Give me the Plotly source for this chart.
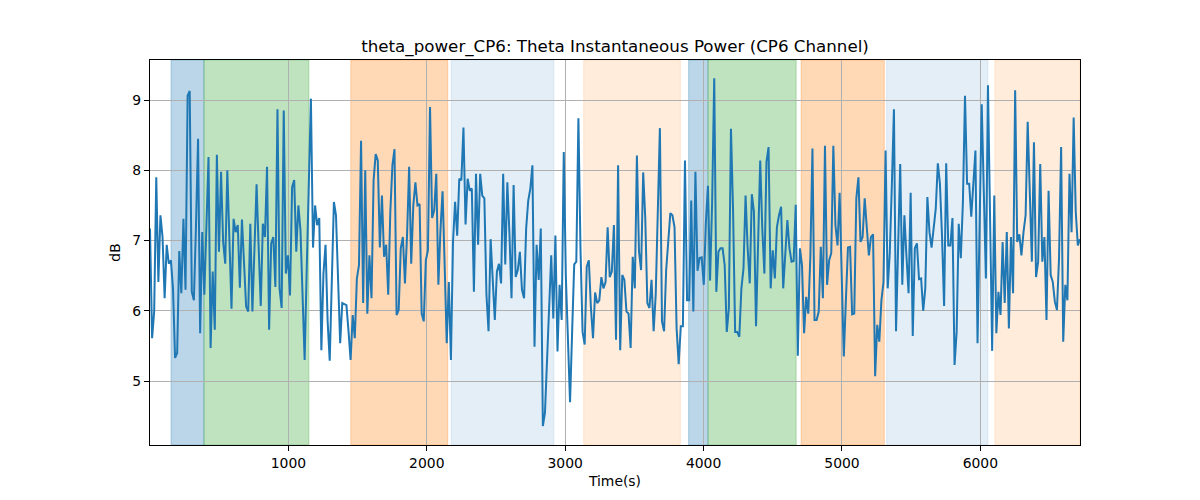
import plotly.graph_objects as go

# ---- data ----
theta_db = [
    # segment 1
    7.17, 5.61, 5.99, 7.90, 6.41, 7.36, 7.05, 6.18, 6.94, 6.67,
    6.72, 6.32, 5.33, 5.40, 6.85, 6.25, 7.31, 6.30, 9.06, 9.13,
    6.27, 6.15, 7.20, 8.45, 5.68, 7.12, 6.23, 7.30, 8.19, 5.47,
    6.56, 5.73, 8.22, 6.84, 7.98, 6.98, 6.67, 8.00, 7.00, 6.03,
    7.31, 7.12, 7.22, 6.33, 7.30, 6.70, 6.06, 5.99, 7.24, 5.99,
    6.90, 7.80, 6.90, 6.07, 7.24,
    # segment 2
    7.05, 8.05, 5.73, 6.96, 7.05, 6.34, 8.87, 6.32, 6.04, 8.85,
    6.53, 6.79, 6.22, 7.76, 7.86, 6.84, 7.50, 7.15, 6.04, 5.30,
    6.60, 7.90, 9.02, 6.90, 7.50, 7.22, 7.32, 5.44, 6.53, 6.94,
    5.85, 5.29, 6.51, 7.55, 7.36, 6.50, 5.54, 6.11, 6.09, 6.08,
    5.71, 5.30, 5.94, 5.61, 6.46, 6.65, 8.42, 6.11, 8.00, 5.96,
    6.79, 6.18, 7.86, 8.23, 8.14, 6.90, 7.64,
    # segment 3
    6.77, 6.94, 6.23, 7.41, 8.07, 8.30, 5.94, 6.01, 6.89, 7.05,
    6.39, 7.07, 8.05, 6.67, 7.50, 7.83, 7.50, 7.52, 5.96, 5.85,
    6.72, 6.86, 8.90, 7.32, 7.43, 7.95, 6.37, 7.15, 7.70, 6.65,
    5.54, 6.41, 5.30, 6.98, 7.55, 7.07, 7.88, 7.86, 8.61, 7.23,
    7.88, 7.71, 7.74, 6.27, 7.95, 6.94, 7.95, 7.64, 7.60, 6.23,
    5.71, 7.02, 6.51, 5.87, 6.56, 6.67,
    # segment 4
    6.39, 7.95, 6.66, 7.83, 7.10, 6.18, 7.79, 6.48, 6.58, 6.84,
    6.30, 6.18, 7.17, 7.57, 7.74, 8.07, 5.49, 6.94, 6.44, 7.17,
    4.36, 4.55, 5.30, 6.00, 6.79, 5.89, 7.07, 5.42, 6.37, 5.87,
    8.26, 6.48, 5.60, 4.70, 5.70, 6.66, 6.70, 8.74, 6.89, 5.70,
    5.52, 6.63, 6.72, 6.04, 5.61, 6.26, 6.11, 6.15, 6.48, 6.32,
    6.41, 7.19, 6.48, 6.56, 7.22, 5.59,
    # segment 5
    8.07, 5.44, 6.51, 6.44, 5.99, 5.96, 5.47, 6.77, 6.32, 8.21,
    6.84, 6.58, 7.97, 7.32, 6.11, 6.04, 6.44, 5.71, 6.23, 7.41,
    8.60, 5.85, 5.71, 6.58, 6.96, 7.39, 7.36, 7.19, 5.75, 5.24,
    5.78, 5.78, 8.14, 6.15, 6.15, 7.57, 5.99, 7.98, 6.57, 6.75,
    6.76, 6.37, 7.26, 7.78, 6.43, 7.55, 9.31, 6.27, 6.84, 6.89,
    6.89, 6.65, 5.70, 6.04, 8.59, 7.45,
    # segment 6
    5.70, 5.70, 5.63, 6.32, 6.60, 7.64, 6.89, 6.39, 7.66, 7.41,
    5.78, 7.12, 8.14, 7.17, 6.53, 8.12, 8.33, 6.32, 6.86, 6.46,
    7.19, 7.36, 7.48, 6.32, 6.84, 7.29, 6.89, 6.70, 6.71, 7.51,
    5.36, 6.89, 6.65, 5.68, 6.20, 5.96, 6.77, 8.31, 5.87, 5.87,
    5.99, 6.91, 6.18, 8.35, 6.37, 6.72, 6.82, 8.35, 7.22, 6.93,
    7.68, 6.32, 5.35, 6.15, 6.90, 6.91, 5.95,
    # segment 7
    5.96, 7.60, 7.90, 6.98, 7.05, 7.60, 7.19, 6.79, 7.05, 7.09,
    5.07, 5.80, 5.56, 6.15, 6.41, 8.28, 6.32, 6.82, 7.79, 8.87,
    5.71, 7.00, 8.09, 6.37, 7.36, 6.77, 6.25, 7.68, 5.64, 6.89,
    6.96, 6.45, 6.46, 6.00, 6.32, 7.62, 7.12, 6.90, 7.20, 7.45,
    8.10, 7.81, 7.07, 6.07, 8.10, 6.93, 6.93, 7.32, 5.23, 5.70,
    7.24, 6.75, 7.55, 9.06, 7.81, 7.81,
    # segment 8
    7.34, 7.74, 8.28, 5.54, 7.20, 8.94, 7.70, 6.46, 9.21, 7.30,
    5.43, 7.64, 5.68, 6.27, 5.94, 6.98, 6.11, 7.12, 5.75, 7.05,
    6.25, 9.14, 6.98, 7.09, 6.79, 7.12, 7.36, 8.69, 7.64, 6.70,
    8.40, 6.48, 6.70, 8.09, 6.70, 7.05, 5.87, 7.71, 6.51, 6.41,
    6.13, 6.01, 6.75, 8.33, 5.56, 6.37, 6.15, 7.95, 7.12, 8.75,
    7.41, 6.93, 7.02,
]
sample_interval = 15.1  # seconds between samples
time_s = [i * sample_interval for i in range(len(theta_db))]

# shaded epochs (start, end, kind)
span_start = [152, 390, 1451, 2177, 3134, 3892, 4032, 4705, 5323, 6105]
span_end = [390, 1148, 2151, 2918, 3832, 4032, 4669, 5306, 6054, 6720]
span_kind = ["blue", "green", "orange", "lightblue", "lightorange",
             "blue", "green", "orange", "lightblue", "lightorange"]

x_ticks = [1000, 2000, 3000, 4000, 5000, 6000]
y_ticks = [5, 6, 7, 8, 9]

span_fill = {
    "blue": "rgba(31,119,180,0.3)",
    "green": "rgba(44,160,44,0.3)",
    "orange": "rgba(255,127,14,0.3)",
    "lightblue": "rgba(31,119,180,0.12)",
    "lightorange": "rgba(255,127,14,0.15)",
}

fig = go.Figure()
fig.add_trace(go.Scatter(
    x=time_s, y=theta_db, mode="lines",
    line=dict(color="#1f77b4", width=2),
    showlegend=False,
))

for s, e, k in zip(span_start, span_end, span_kind):
    fig.add_shape(type="rect", xref="x", yref="paper", x0=s, x1=e, y0=0, y1=1,
                  fillcolor=span_fill[k], line=dict(color=span_fill[k], width=1),
                  layer="below")

font = dict(family="DejaVu Sans", size=13.9, color="black")
fig.update_layout(
    width=1200, height=500,
    margin=dict(l=150, r=120, t=60, b=55),
    paper_bgcolor="white", plot_bgcolor="white",
    font=font,
    title=dict(text="theta_power_CP6: Theta Instantaneous Power (CP6 Channel)",
               x=0.5, xref="paper", xanchor="center",
               y=1 - 46 / 500, yref="container", yanchor="middle",
               font=dict(family="DejaVu Sans", size=16.7, color="black")),
)
axis_common = dict(
    showgrid=True, gridcolor="#b0b0b0", gridwidth=0.8,
    zeroline=False, showline=True, linecolor="black", linewidth=1.1,
    mirror=True, ticks="outside", ticklen=5, tickwidth=1.1, tickcolor="black",
    tickfont=font,
)
fig.update_xaxes(range=[0, 6720], tickvals=x_ticks,
                 title=dict(text="Time(s)", font=font, standoff=6), **axis_common)
fig.update_yaxes(range=[4.09, 9.57], tickvals=y_ticks,
                 title=dict(text="dB", font=font, standoff=8), **axis_common)

fig.write_html("out.html")
